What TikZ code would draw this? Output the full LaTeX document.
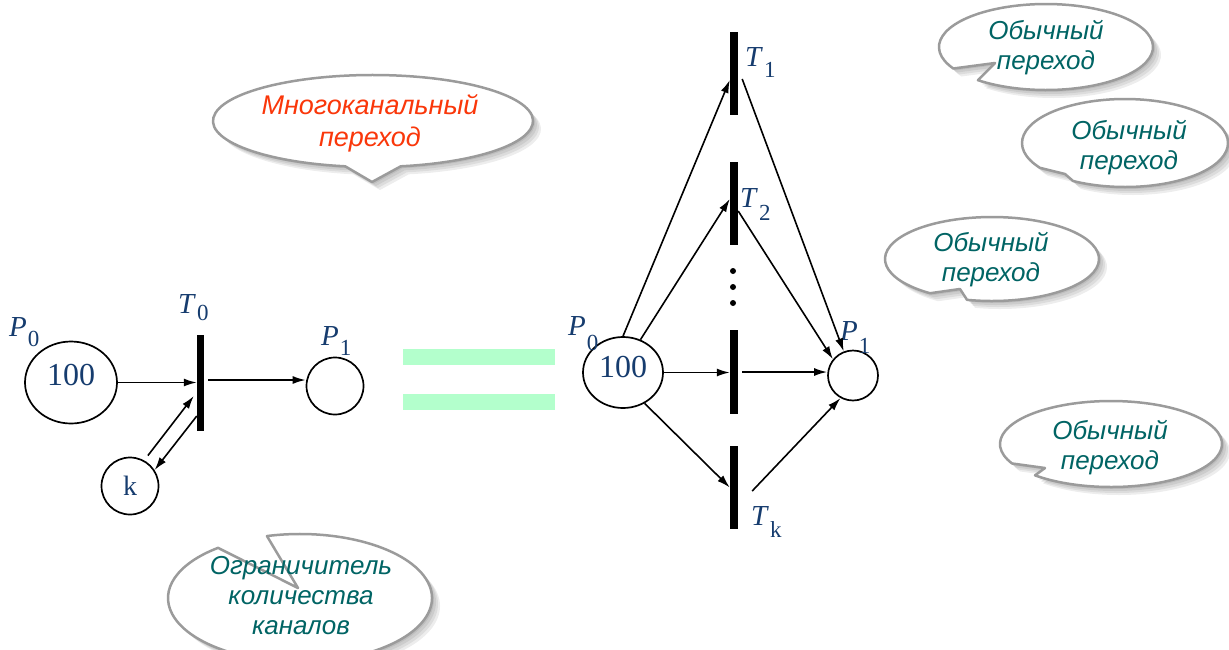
\documentclass[tikz,border=0pt]{standalone}
\usepackage{fontspec}
\setmainfont{Liberation Serif}
\newfontfamily\calloutfont{Liberation Sans}
\usetikzlibrary{arrows.meta,shapes.geometric,calc}
\definecolor{lblblue}{RGB}{22,60,110}
\definecolor{calred}{RGB}{250,55,10}
\definecolor{calteal}{RGB}{0,100,100}
\definecolor{bubblegray}{RGB}{155,155,155}
\definecolor{eqgreen}{RGB}{179,255,204}
% label: letter, subscript, lowering
\newcommand\lbl[3]{\textit{#1}\kern1pt\raisebox{-#3pt}{\fontsize{23}{23}\selectfont #2}}
% bubble: cx cy rx ry start end apexx apexy
\newcommand\bubble[8]{%
  \foreach \s in {2,4,6,8}{%
    \fill[shadowfill,shift={(\s,\s)}] ({#1+#3*cos(#5)},{#2+#4*sin(#5)}) arc[start angle=#5,end angle=#6,x radius=#3,y radius=#4] -- (#7,#8) -- cycle;}
  \filldraw[bubbleline] ({#1+#3*cos(#5)},{#2+#4*sin(#5)}) arc[start angle=#5,end angle=#6,x radius=#3,y radius=#4] -- (#7,#8) -- cycle;
}
\begin{document}
\begin{tikzpicture}[x=1pt,y=1pt,yscale=-1,
  place/.style={draw,line width=1.7pt,inner sep=0pt,text=lblblue},
  bar/.style={fill=black,inner sep=0pt,minimum width=8pt},
  flow/.style={-{Latex[length=13pt,width=8pt]},line width=1.6pt},
  lab/.style={text=lblblue,inner sep=0pt,anchor=base west,font=\fontsize{29}{29}\selectfont},
  ctext/.style={align=center,inner sep=0pt,text=calteal,font=\calloutfont\itshape\fontsize{26}{30}\selectfont},
  bubbleline/.style={fill=white,draw=bubblegray,line width=2.5pt,line join=round},
  shadowfill/.style={fill=black,opacity=0.07}]
\useasboundingbox (0,0) rectangle (1229,649);

% ---- callouts
\bubble{373}{121}{160}{46}{100}{440}{372}{182}
\bubble{1046}{47}{107}{43}{150}{489.5}{995}{63}
\bubble{1125}{143}{103}{44}{145.6}{480.3}{1065}{174}
\bubble{992}{259}{107}{42}{125.4}{463.5}{960}{289}
\bubble{1111}{444}{111}{43}{153.1}{493.2}{1045}{468}
\bubble{300}{598}{132}{64}{255.5}{591.6}{298}{588}

\node[ctext,text=calred,font=\calloutfont\itshape\fontsize{27}{32}\selectfont] (tA) at (370,123) {Многоканальный\\переход};
\node[ctext] (tB) at (1046,48) {Обычный\\переход};
\node[ctext] (tC) at (1129,148) {Обычный\\переход};
\node[ctext] (tD) at (991,260) {Обычный\\переход};
\node[ctext] (tE) at (1110,448) {Обычный\\переход};
\node[ctext] (tF) at (301,596) {Ограничитель\\количества\\каналов};

% ---- left net
\node[place,ellipse,minimum width=92pt,minimum height=82pt,font=\fontsize{32}{32}\selectfont] (P0L) at (71,382.5) {\raisebox{7pt}[\height][\depth]{100}\hspace{18pt}};
\node[bar,minimum height=96pt,minimum width=7pt] (T0) at (200.5,383) {};
\node[place,circle,minimum size=57pt] (P1L) at (335,386) {};
\node[place,circle,minimum size=57pt,font=\fontsize{28}{28}\selectfont] (K) at (130,486) {k};

\node[lab] (lP0L) at (9,336) {\lbl{P}{0}{10}};
\node[lab] (lT0) at (178,313) {\lbl{T}{0}{7}};
\node[lab] (lP1L) at (321,345) {\lbl{P}{1}{10}};

\draw[flow] (P0L.east) -- (P0L.east -| T0.west);
\draw[flow] ($(T0.east)+(4,-3)$) -- ($(P1L.west)+(0,-6)$);
\draw[flow,shorten <=6pt] (K.61) -- ($(T0.west)+(-3,13)$);
\draw[flow] ($(T0.west)+(0,33)$) -- (K.33);

% ---- equals sign
\fill[eqgreen] (403,349) rectangle (555,365);
\fill[eqgreen] (403,394) rectangle (555,410);

% ---- right net
\node[place,ellipse,minimum width=80pt,minimum height=71pt,font=\fontsize{32}{32}\selectfont] (P0R) at (623,372.5) {\raisebox{5pt}[\height][\depth]{100}\hspace{8pt}};
\node[place,circle,minimum size=50pt] (P1R) at (853,375.5) {};
\node[bar,minimum height=83pt] (T1) at (734,73.5) {};
\node[bar,minimum height=83pt] (T2) at (734,203.5) {};
\node[bar,minimum height=84pt] (T3) at (734,372) {};
\node[bar,minimum height=83pt] (Tk) at (734,487.5) {};

\fill (733,271) circle[radius=3];
\fill (733,287) circle[radius=3];
\fill (733,303) circle[radius=3];

\node[lab] (lT1) at (745,66) {\lbl{T}{1}{11}};
\node[lab] (lT2) at (740,207) {\lbl{T}{2}{13}};
\node[lab] (lTk) at (751,525) {\lbl{T}{k}{12}};
\node[lab] (lP0R) at (568,335) {\lbl{P}{0}{15}};
\node[lab] (lP1R) at (840,340) {\lbl{P}{1}{13}};

\draw[flow] (P0R.north) -- ($(T1.west)+(0,6.5)$);
\draw[flow] ($(T1.east)+(4,5.5)$) -- (P1R.111);
\draw[flow] (P0R.62) -- ($(T2.west)+(0,-4.5)$);
\draw[flow] ($(T2.east)+(0,7.5)$) -- (P1R.141);
\draw[flow] (P0R.east) -- (P0R.east -| T3.west);
\draw[flow] ($(T3.east)+(4,0)$) -- (T3.east -| P1R.west);
\draw[flow] (P0R.305) -- (Tk.west);
\draw[flow] ($(Tk.east)+(14,3.5)$) -- (P1R.241);
\end{tikzpicture}
\end{document}
